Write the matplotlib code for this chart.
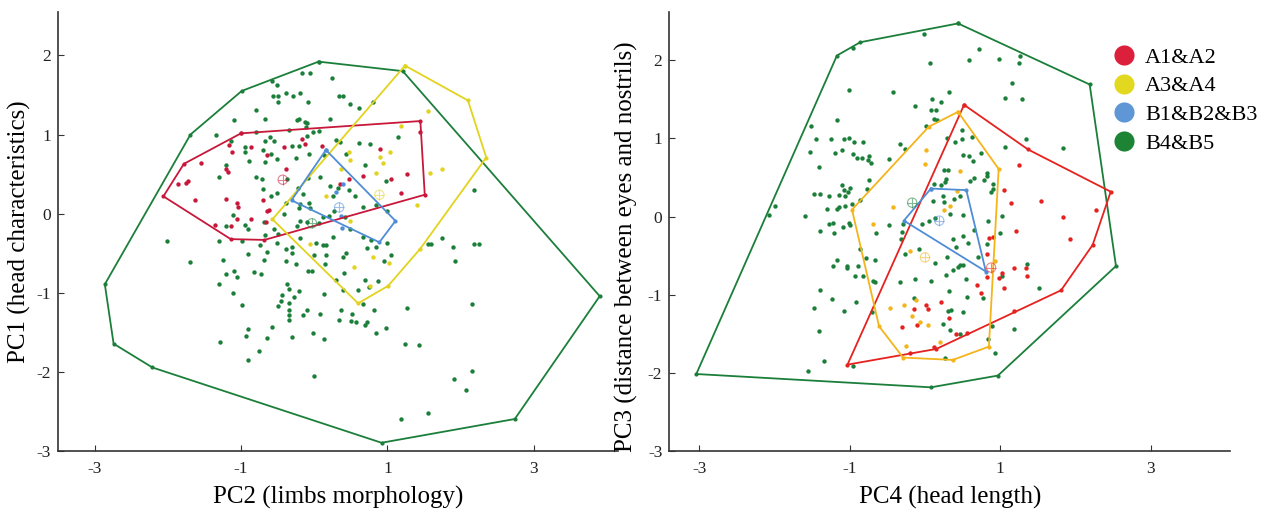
"""
PCA scatter with convex hulls for the four groups (PC2/PC1 and PC4/PC3).
"""
import matplotlib
matplotlib.use("Agg")
from matplotlib import pyplot as plt
from matplotlib.lines import Line2D

# ---------------- left panel: PC2 (x) vs PC1 (y) ----------------
left_a12 = [(-1.17, 0.87), (-1.12, 0.78), (-0.87, 0.84), (-0.65, 0.74), (-0.41, 0.84), (-0.16, 0.94),
            (-0.12, 0.88), (0.10, 0.86), (-1.54, 0.64), (-1.20, 0.57), (-1.18, 0.53), (-0.39, 0.57),
            (-1.72, 0.41), (-1.75, 0.39), (-1.86, 0.38), (-1.63, 0.17), (-1.21, 0.19), (-1.06, 0.14),
            (-1.04, 0.08), (-0.70, 0.18), (-0.65, 0.04), (-0.62, 0.05), (-1.06, -0.06), (-1.13, -0.15),
            (-1.35, -0.14), (-0.86, -0.07), (-0.66, -0.11), (0.66, 0.48), (0.48, 0.44), (0.35, 0.38),
            (1.44, 1.03), (1.05, 0.44), (1.27, 0.50), (1.19, 0.26), (0.90, 0.82)]
left_a34 = [(0.48, 0.78), (0.49, 0.68), (0.37, 0.57), (0.85, 0.51), (0.16, 0.22), (0.49, -0.09),
            (-0.06, -0.38), (1.56, 1.30), (1.18, 1.11), (1.04, 0.78), (0.94, 0.64), (0.90, 0.72),
            (1.58, 0.52), (1.74, 0.56), (1.41, 0.11), (0.54, -0.67), (0.80, -0.54), (0.76, -0.91),
            (1.02, -0.62)]
left_b123 = [(0.40, 0.37), (0.30, 0.28), (0.36, -0.03), (0.375, -0.18)]
left_b45 = [(-0.17, 1.78), (-0.06, 1.78), (0.24, 1.71), (-0.57, 1.68), (-0.51, 1.63), (-0.56, 1.48),
            (-0.49, 1.48), (-0.38, 1.53), (-0.29, 1.48), (-0.19, 1.52), (-0.49, 1.41), (-0.08, 1.41),
            (0.34, 1.49), (0.39, 1.49), (0.49, 1.38), (0.61, 1.34), (0.80, 1.41), (-0.79, 1.31),
            (-1.10, 1.18), (-0.67, 1.20), (-0.24, 1.18), (-0.21, 1.19), (-0.13, 1.16), (-0.10, 1.14),
            (-0.11, 1.10), (0.22, 1.19), (-1.34, 1.00), (-0.80, 1.03), (-0.60, 0.97), (-0.34, 1.06),
            (-0.10, 0.98), (-0.02, 1.03), (0.06, 1.04), (-1.14, 0.92), (-0.95, 0.84), (-0.94, 0.78),
            (-0.67, 0.92), (-0.55, 0.92), (-0.30, 0.86), (-0.21, 0.86), (-0.70, 0.80), (-0.59, 0.76),
            (-0.07, 0.75), (-0.25, 0.71), (-0.89, 0.66), (-0.67, 0.65), (-0.51, 0.69), (0.14, 0.74),
            (0.30, 0.93), (0.35, 0.91), (0.61, 0.89), (0.76, 0.88), (0.43, 0.76), (0.70, 0.62),
            (-1.30, 0.47), (-0.80, 0.46), (-0.71, 0.44), (-0.37, 0.44), (-1.20, 0.61), (-0.70, 0.31),
            (-0.59, 0.23), (-0.51, 0.26), (-0.22, 0.33), (-0.15, 0.25), (-0.09, 0.45), (0.08, 0.47),
            (0.22, 0.35), (0.32, 0.32), (0.47, 0.30), (0.56, 0.22), (0.26, 0.22), (-0.07, 0.14),
            (-0.19, 0.12), (-0.38, 0.13), (-0.41, 0.00), (-0.21, 0.07), (-0.06, 0.07), (-1.11, -0.02),
            (-1.20, -0.16), (-0.95, -0.14), (-0.90, -0.19), (-0.68, -0.11), (-0.55, -0.19), (-0.49, -0.25),
            (-0.23, -0.15), (-0.19, -0.09), (-0.10, -0.11), (0.07, -0.12), (0.12, -0.04), (0.20, -0.03),
            (0.27, 0.04), (0.42, -0.04), (0.67, 0.09), (0.85, 0.11), (-1.30, -0.34), (-0.99, -0.35),
            (-0.74, -0.39), (-0.67, -0.27), (-0.51, -0.37), (-0.20, -0.31), (0.03, -0.37), (0.12, -0.40),
            (0.16, -0.39), (0.26, -0.29), (-2.01, -0.35), (0.67, -0.29), (0.78, -0.33), (0.49, -0.19),
            (-1.70, -0.61), (-1.24, -0.58), (-0.91, -0.51), (-0.65, -0.48), (-0.68, -0.58), (-1.20, -0.76),
            (-1.10, -0.72), (-1.06, -0.80), (-0.82, -0.73), (-0.73, -0.76), (-1.30, -0.89), (-1.11, -1.00),
            (-0.99, -1.15), (-0.39, -0.44), (-0.30, -0.42), (-0.30, -0.50), (-0.38, -0.59), (-0.25, -0.64),
            (0.00, -0.52), (0.16, -0.52), (0.15, -0.64), (-0.08, -0.72), (-0.03, -0.72), (0.39, -0.55),
            (0.43, -0.49), (0.41, -0.75), (0.72, -0.43), (0.84, -0.42), (0.69, -0.83), (0.87, -0.85),
            (0.75, -0.92), (0.60, -0.96), (0.40, -0.96), (0.30, -0.84), (-0.37, -0.89), (-0.35, -0.95),
            (-0.44, -1.02), (-0.21, -0.98), (-0.27, -1.05), (-0.34, -1.12), (-0.45, -1.10), (-0.50, -1.16),
            (-0.34, -1.22), (-0.34, -1.28), (-0.34, -1.34), (-0.10, -1.21), (-0.15, -1.28), (0.08, -1.26),
            (0.14, -1.01), (0.66, -1.14), (0.36, -1.21), (0.52, -1.27), (0.34, -1.34), (0.50, -1.35),
            (0.57, -1.36), (0.72, -1.36), (0.70, -1.41), (0.82, -1.22), (0.84, -1.51), (-0.58, -1.43),
            (-0.90, -1.46), (-0.93, -1.54), (-0.65, -1.57), (-0.31, -1.55), (-0.02, -1.50), (0.13, -1.58),
            (-1.29, -1.62), (-0.76, -1.73), (-0.90, -1.85), (0.00, -2.05), (1.15, 0.97), (0.98, 0.41),
            (2.18, 0.30), (1.00, 0.03), (1.75, -0.31), (1.00, -0.37), (1.55, -0.38), (1.60, -0.38),
            (1.90, -0.42), (2.18, -0.38), (2.25, -0.38), (1.05, -0.52), (0.96, -0.59), (1.92, -0.59),
            (2.15, -1.14), (1.27, -1.19), (0.98, -1.44), (1.24, -1.64), (1.43, -1.66), (2.15, -1.98),
            (1.91, -2.08), (2.07, -2.23), (1.55, -2.51), (1.18, -2.59)]

left_hull_a12 = [(-1.00, 1.015), (1.45, 1.17), (1.51, 0.24), (-0.68, -0.33), (-1.14, -0.32),
                 (-2.06, 0.22), (-1.78, 0.63)]
left_hull_a34 = [(1.24, 1.87), (2.10, 1.43), (2.35, 0.71), (1.45, -0.44), (1.01, -0.91), (0.60, -1.13),
                 (-0.57, -0.07)]
left_hull_b123 = [(0.16, 0.805), (1.11, -0.09), (0.89, -0.36), (-0.31, 0.17)]
left_hull_b45 = [(0.06, 1.92), (1.21, 1.80), (3.90, -1.04), (2.74, -2.59), (0.92, -2.89), (-2.21, -1.94),
                 (-2.74, -1.64), (-2.86, -0.89), (-1.69, 1.00), (-0.99, 1.55)]
left_centroids = [(-0.43, 0.43), (0.89, 0.24), (0.34, 0.08), (-0.03, -0.12)]

# ---------------- right panel: PC4 (x) vs PC3 (y) ----------------
right_a12 = [(-0.30, -1.41), (1.25, 0.66), (1.05, 0.34), (1.15, 0.17), (1.54, 0.20), (1.84, 0.00),
             (2.27, 0.09), (0.85, -0.27), (0.90, -0.26), (1.21, -0.18), (1.93, -0.28), (0.82, -0.48),
             (0.83, -0.77), (1.03, -0.72), (0.98, -0.78), (1.18, -0.65), (1.34, -0.65), (1.36, -0.76),
             (1.05, -0.91), (0.69, -0.87), (0.74, -0.98), (0.22, -1.09), (0.02, -1.13), (0.04, -1.18),
             (-0.15, -1.18), (0.32, -1.30), (-0.10, -1.38), (0.41, -1.50), (0.56, -1.49), (0.12, -1.66),
             (-0.20, -1.74), (1.19, -1.21)]
right_a34 = [(-0.42, 0.12), (-0.69, -0.09), (-0.47, -1.17), (-0.28, -1.13), (-0.25, -1.65), (-0.20, -0.44),
             (0.01, 0.85), (0.00, 0.67), (0.47, 0.58), (0.43, 0.33), (0.33, 0.14), (0.25, 0.09),
             (-0.12, -1.06), (-0.17, -1.27), (-0.07, -1.34), (0.04, -1.39), (0.20, -1.60), (0.93, -0.57)]
right_b45 = [(-1.01, 1.62), (-0.43, 1.59), (-0.95, 2.16), (-1.17, 1.23), (-1.51, 1.16), (-1.45, 0.99),
             (-1.25, 0.99), (-1.07, 0.99), (-1.01, 1.00), (-0.94, 0.95), (-0.82, 0.95), (-1.53, 0.83),
             (-1.19, 0.81), (-1.10, 0.85), (-0.96, 0.80), (-0.91, 0.75), (-0.84, 0.75), (-0.76, 0.73),
             (-0.74, 0.77), (-0.72, 0.69), (-0.48, 0.74), (-0.33, 0.93), (-0.26, 0.87), (-1.41, 0.64),
             (-0.74, 0.47), (-0.77, 0.35), (-1.10, 0.40), (-0.99, 0.37), (-1.07, 0.34), (-1.02, 0.31),
             (-1.06, 0.27), (-1.48, 0.29), (-1.39, 0.29), (-1.28, 0.26), (-1.14, 0.28), (-0.87, 0.22),
             (-1.99, 0.14), (-2.07, 0.02), (-1.59, 0.01), (-1.30, 0.10), (-1.17, 0.10), (-1.14, 0.12),
             (-1.06, 0.14), (-0.97, 0.16), (-1.39, -0.18), (-1.28, -0.09), (-1.22, -0.08), (-1.21, -0.21),
             (-1.09, -0.13), (-1.01, -0.08), (-1.00, -0.10), (-0.65, -0.21), (-0.48, -0.11), (-0.30, -0.20),
             (-0.29, -0.09), (-0.32, -0.28), (-0.26, -0.48), (-0.86, -0.41), (-0.79, -0.53), (-0.66, -0.55),
             (-1.17, -0.55), (-1.22, -0.63), (-1.04, -0.63), (-1.03, -0.66), (-0.89, -0.63), (-0.93, -0.76),
             (-0.83, -0.76), (-0.69, -0.82), (-0.66, -0.84), (-0.33, -0.83), (-1.39, -0.94), (-1.24, -1.05),
             (-0.92, -1.09), (-1.48, -1.17), (-1.08, -1.21), (-0.70, -1.22), (-1.41, -1.46), (-1.34, -1.84),
             (-1.56, -1.97), (-0.96, -1.91), (-0.01, 2.33), (0.72, 2.14), (0.07, 1.97), (0.59, 2.00),
             (0.98, 2.02), (1.25, 1.96), (1.27, 2.06), (1.16, 1.71), (0.32, 1.60), (1.07, 1.52),
             (1.29, 1.51), (-0.13, 1.42), (0.10, 1.50), (0.21, 1.47), (0.08, 1.36), (0.15, 1.36),
             (0.12, 1.25), (0.16, 1.23), (0.02, 1.16), (0.49, 1.11), (0.29, 1.00), (0.40, 0.95),
             (0.49, 0.99), (0.63, 1.02), (1.34, 0.99), (1.07, 0.89), (1.84, 0.88), (0.51, 0.79),
             (0.59, 0.77), (0.64, 0.71), (0.74, 0.82), (0.25, 0.60), (0.31, 0.60), (0.82, 0.56),
             (0.82, 0.52), (0.65, 0.50), (0.60, 0.46), (0.78, 0.47), (0.90, 0.42), (0.90, 0.36),
             (0.88, 0.31), (0.28, 0.48), (0.27, 0.44), (0.22, 0.40), (0.12, 0.42), (0.24, 0.26),
             (0.11, 0.20), (0.25, 0.19), (0.38, 0.23), (0.47, 0.26), (0.33, 0.04), (0.50, 0.02),
             (1.03, 0.01), (0.14, -0.01), (-0.04, -0.09), (0.06, -0.05), (0.84, -0.06), (0.65, -0.17),
             (1.00, -0.21), (0.37, -0.28), (0.50, -0.25), (0.57, -0.33), (0.83, -0.35), (0.41, -0.39),
             (-0.08, -0.41), (0.13, -0.59), (0.29, -0.52), (0.44, -0.64), (0.47, -0.62), (0.50, -0.62),
             (0.37, -0.68), (0.28, -0.75), (0.71, -0.51), (0.55, -0.79), (-0.13, -0.80), (0.08, -0.82),
             (1.02, -0.76), (1.36, -0.60), (1.52, -0.91), (0.32, -0.95), (0.56, -1.02), (0.77, -1.04),
             (-0.15, -1.04), (0.31, -1.21), (0.35, -1.19), (0.51, -1.22), (0.24, -1.37), (0.33, -1.45),
             (0.47, -1.50), (0.89, -1.40), (1.18, -1.43), (0.84, -1.56), (0.93, -1.74), (0.26, -1.80)]

right_hull_a12 = [(0.52, 1.43), (1.37, 0.86), (2.47, 0.32), (2.23, -0.36), (1.81, -0.94), (0.15, -1.69),
                  (-1.03, -1.89)]
right_hull_a34 = [(0.44, 1.34), (0.98, 0.61), (0.85, -1.66), (0.37, -1.83), (-0.29, -1.80), (-0.61, -1.40),
                  (-0.97, 0.09), (0.05, 1.15)]
right_hull_b123 = [(0.08, 0.36), (0.55, 0.34), (0.81, -0.70), (-0.28, -0.05)]
right_hull_b45 = [(0.44, 2.47), (2.19, 1.69), (2.54, -0.63), (0.97, -2.03), (0.08, -2.18), (-3.04, -2.01),
                  (-1.17, 2.06), (-0.86, 2.23)]
right_centroids = [(0.88, -0.65), (0.00, -0.52), (0.19, -0.05), (-0.17, 0.18)]

group_labels = ["A1&A2", "A3&A4", "B1&B2&B3", "B4&B5"]
x_ticks = [-3, -1, 1, 3]
y_ticks = [-3, -2, -1, 0, 1, 2]

GREEN = '#1b7f3a'
BLUE = '#4f8dd6'
LEFT_COLORS = ['#c8183a', '#e2d31e', BLUE, GREEN]
RIGHT_COLORS = ['#e5221f', '#f4b41a', BLUE, GREEN]
LEGEND_COLORS = ['#dc1f3a', '#e3d820', '#5f97d6', '#1d8436']

plt.rcParams['font.family'] = ['Liberation Serif', 'DejaVu Serif']
plt.rcParams['axes.unicode_minus'] = False


def draw_panel(ax, points, hulls, centroids, colors, xlim, ylim):
    # draw green first so the smaller groups stay on top
    for idx in [3, 0, 1, 2]:
        pts = points[idx]
        if pts:
            ax.scatter([p[0] for p in pts], [p[1] for p in pts], s=10, color=colors[idx],
                       linewidths=0, zorder=2)
    for idx in [3, 0, 1, 2]:
        hull = hulls[idx] + [hulls[idx][0]]
        ax.plot([p[0] for p in hull], [p[1] for p in hull], color=colors[idx], lw=1.3,
                marker='o', markersize=2, zorder=3)
    for idx, (cx, cy) in enumerate(centroids):
        ax.scatter([cx], [cy], s=45, facecolors='none', edgecolors=colors[idx], linewidths=0.8,
                   alpha=0.55, zorder=4)
        ax.scatter([cx], [cy], s=45, marker='+', color=colors[idx], linewidths=0.8, alpha=0.55,
                   zorder=4)

    ax.set_xlim(*xlim)
    ax.set_ylim(*ylim)
    ax.set_xticks(x_ticks)
    ax.set_yticks(y_ticks)
    ax.tick_params(direction='in', length=4, width=0.8, colors='#333333', labelsize=12.5,
                   labelcolor='#222222')
    ax.tick_params(axis='x', pad=7)
    ax.tick_params(axis='y', pad=5)
    for side in ['top', 'right']:
        ax.spines[side].set_visible(False)
    for side in ['left', 'bottom']:
        ax.spines[side].set_color('#333333')
        ax.spines[side].set_linewidth(1.2)


fig = plt.figure(figsize=(12.74, 5.09), dpi=100)
ax1 = fig.add_axes([0.0455, 0.113, 0.4396, 0.864])
ax2 = fig.add_axes([0.5253, 0.113, 0.4404, 0.864])

draw_panel(ax1, [left_a12, left_a34, left_b123, left_b45],
           [left_hull_a12, left_hull_a34, left_hull_b123, left_hull_b45],
           left_centroids, LEFT_COLORS, (-3.5, 4.15), (-3, 2.55))
draw_panel(ax2, [right_a12, right_a34, [], right_b45],
           [right_hull_a12, right_hull_a34, right_hull_b123, right_hull_b45],
           right_centroids, RIGHT_COLORS, (-3.4, 4.06), (-3, 2.62))

ax1.set_xlabel('PC2 (limbs morphology)', fontsize=18, labelpad=6)
ax1.set_ylabel('PC1 (head characteristics)', fontsize=18, labelpad=4)
ax2.set_xlabel('PC4 (head length)', fontsize=18, labelpad=6)
ax2.set_ylabel('PC3 (distance between eyes and nostrils)', fontsize=18)
ax2.yaxis.set_label_coords(-0.055, 0.465)

handles = [Line2D([], [], linestyle='none', marker='o', markersize=14.5, color=c, markeredgewidth=0)
           for c in LEGEND_COLORS]
fig.legend(handles, group_labels, loc='upper left', bbox_to_anchor=(0.8614, 0.9375), frameon=False,
           fontsize=16, handletextpad=0.45, labelspacing=0.36, handlelength=1.0, borderpad=0.2)

fig.savefig('out.png', dpi=100)
